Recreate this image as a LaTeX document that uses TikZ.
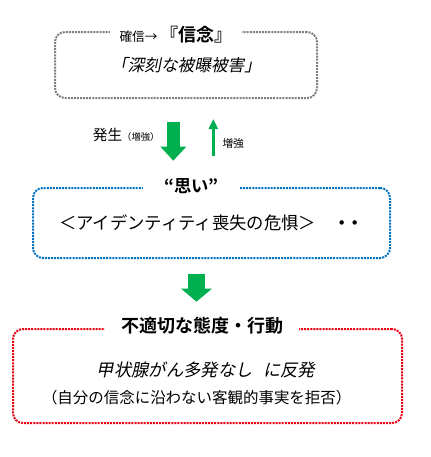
\documentclass[tikz,border=0pt]{standalone}
\usepackage{fontspec}
\setmainfont{Noto Sans CJK JP}[BoldFont={Noto Sans CJK JP Bold}]
\newfontfamily\jpit[FakeSlant=0.2]{Noto Sans CJK JP}
\usetikzlibrary{arrows.meta,positioning}
\definecolor{boxgray}{RGB}{127,127,127}
\definecolor{boxblue}{RGB}{0,112,192}
\definecolor{boxred}{RGB}{230,0,18}
\definecolor{arrgreen}{RGB}{0,176,80}
\tikzset{every picture/.style={line width=0.75pt}}
\tikzset{
dotbox/.style={draw, rounded corners=7.5pt, line width=1.5pt, dash pattern={on 1.5pt off 0.8pt}, inner sep=0pt},
boxtitle/.style={fill=white, inner xsep=7pt, inner ysep=1pt, font=\bfseries},
bigarrow/.style={draw=arrgreen, -{Triangle[length=10.5pt,width=18.75pt]}},
thinarrow/.style={draw=arrgreen, line width=2pt, -{Triangle[length=7.5pt,width=6.75pt]}}
}

\begin{document}
\begin{tikzpicture}[x=0.75pt,y=0.75pt,yscale=-1,xscale=1]
\path[use as bounding box] (0,0) rectangle (430,457);

%Shape: Rounded Rect [id:box1]
\node [dotbox, draw=boxgray, minimum width=196.5pt, minimum height=49.5pt, font=\jpit\fontsize{12.5}{15}\selectfont] (box1) at (186,65) {「深刻な被曝被害」};
%Shape: Rounded Rect [id:box2]
\node [dotbox, draw=boxblue, minimum width=267.75pt, minimum height=52.5pt, font=\fontsize{13}{15}\selectfont] (box2) at (211.5,223) {＜アイデンティティ喪失の危惧＞　{\bfseries ・\kern-0.25em・}};
%Shape: Rounded Rect [id:box3]
\node [dotbox, draw=boxred, minimum width=291.75pt, minimum height=70.5pt] (box3) at (207.5,376) {};

% Text Node
\node [boxtitle, font=\normalfont] (title1) at ([xshift=-7.5pt,yshift=3pt]box1.north) {{\fontsize{9.5}{12}\selectfont 確信→} {\bfseries\fontsize{13.5}{15}\selectfont 『信念』}};
% Text Node
\node [boxtitle, inner xsep=16pt, font=\bfseries\fontsize{13}{15}\selectfont] (title2) at ([xshift=-15pt,yshift=-1pt]box2.north) {“思い”};
% Text Node
\node [boxtitle, inner xsep=12pt, font=\bfseries\fontsize{13.5}{15}\selectfont] (title3) at ([xshift=-4pt,yshift=-2pt]box3.north) {不適切な態度・行動};
% Text Node
\node [font=\jpit\fontsize{13}{15}\selectfont] (act) at (206,370) {甲状腺がん多発なし\hspace{0.6em}に反発};
% Text Node
\node [font=\fontsize{11.6}{14}\selectfont, below=2pt of act.south, anchor=north, xshift=-7pt] (reason) {（自分の信念に沿わない客観的事実を拒否）};

%Straight Lines [id:arrows]
\coordinate (a1s) at (173.3,121.7);
\coordinate (a1e) at (173.3,160.7);
\draw [bigarrow, line width=9.75pt] (a1s) -- (a1e);
\coordinate (a2s) at (213.3,155.7);
\coordinate (a2e) at (213.3,119);
\draw [thinarrow] (a2s) -- (a2e);
\coordinate (a3s) at (196.5,274.3);
\coordinate (a3e) at (196.5,301.7);
\draw [bigarrow, line width=12.75pt, -{Triangle[length=9.75pt,width=22.5pt]}] (a3s) -- (a3e);

% Text Node
\node [anchor=east, inner sep=0.75pt] (gen) at (161,135) {{\fontsize{11}{13}\selectfont 発生}{\fontsize{7}{9}\selectfont （増強）}};
% Text Node
\node [anchor=west, inner sep=0.75pt, font=\fontsize{8}{10}\selectfont] (zk) at (221,143) {増強};

\end{tikzpicture}
\end{document}
